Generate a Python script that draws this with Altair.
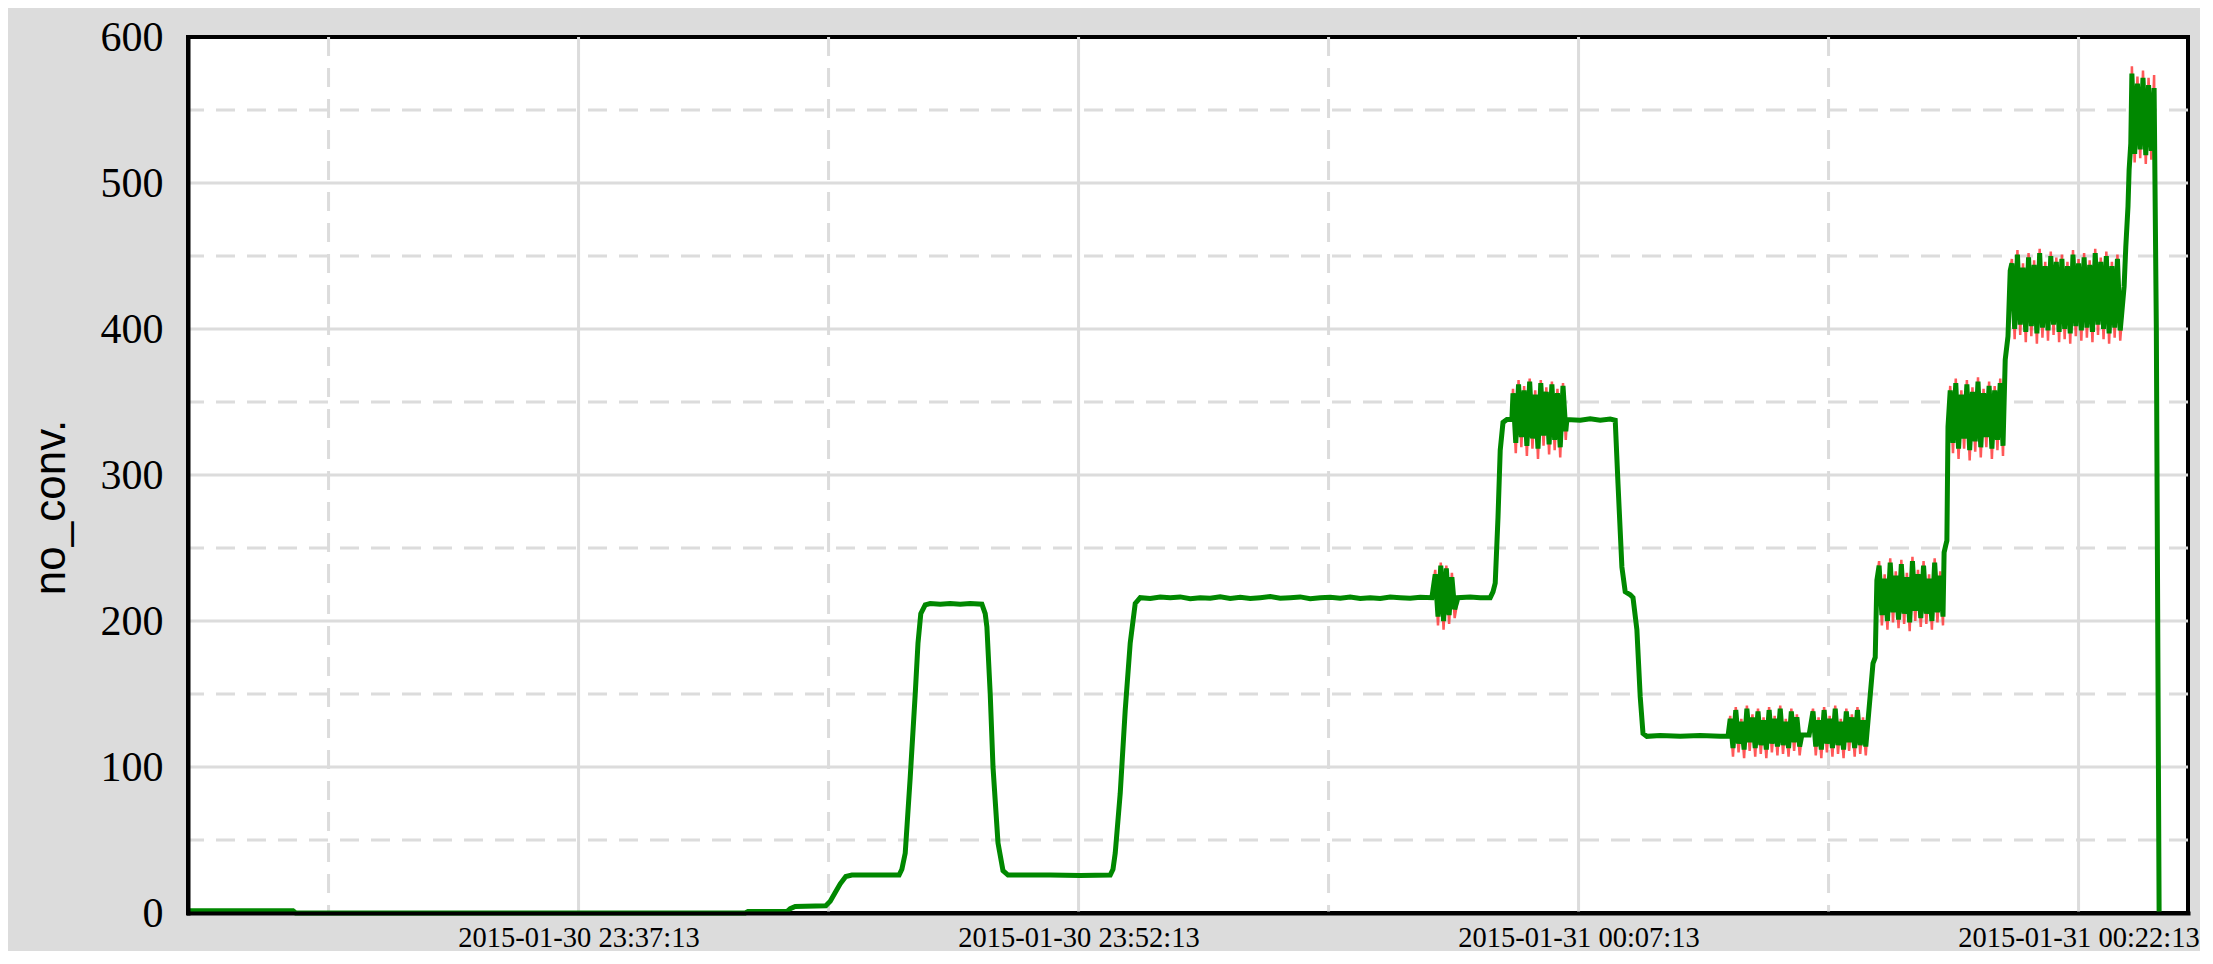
import altair as alt
import pandas as pd

# ---------------- data ----------------
START = "2015-01-30 23:25:30"
STEP = 5  # seconds between samples inside the oscillating blocks

# slowly varying parts of the trace (seconds after START, value)
SMOOTH_SEC = [0, 189, 194, 1003, 1008, 1078, 1084, 1093, 1148, 1156, 1165, 1174, 1184, 1195,
              1280, 1285, 1291, 1300, 1309, 1314, 1319, 1327, 1336, 1354, 1372, 1390, 1408, 1429,
              1435, 1438, 1444, 1449, 1458, 1467, 1476, 1552, 1606, 1660, 1665, 1669, 1678, 1687,
              1696, 1705, 1714, 1732, 1750, 1768, 1786, 1804, 1822, 1840, 1858, 1876, 1894, 1912,
              1930, 1948, 1966, 1984, 2002, 2020, 2038, 2056, 2074, 2092, 2110, 2128, 2146, 2164,
              2182, 2200, 2218, 2239, 2286, 2308, 2326, 2344, 2349, 2353, 2358, 2362, 2367, 2374,
              2383, 2482, 2506, 2524, 2542, 2560, 2569, 2574, 2581, 2587, 2596, 2601, 2608, 2614,
              2619, 2626, 2650, 2686, 2722, 2758, 2772, 2905, 2918, 3033, 3037, 3040, 3161, 3164,
              3166, 3168, 3271, 3276, 3280, 3485, 3488, 3492, 3494, 3497, 3543, 3548]
SMOOTH_VAL = [1.5, 1.5, 0, 0, 1, 1, 3, 4.5, 5, 8, 14, 20, 25, 26,
              26, 30, 41, 93, 150, 185, 205, 211, 212, 211.5, 212, 211.5, 212, 211.5,
              205, 196, 150, 100, 48, 29, 26, 26, 25.7, 26, 30, 41, 82, 139,
              185, 212, 216, 215.5, 216.5, 216, 216.5, 215.3, 216, 215.6, 216.6, 215.5, 216.2, 215.4,
              216, 216.7, 215.6, 216, 216.5, 215.3, 216, 216.3, 215.6, 216.5, 215.5, 216, 215.4, 216.4,
              216, 215.6, 216.3, 216, 216, 216.5, 216, 216, 220, 226, 271, 317, 336, 338,
              338, 338, 337.5, 338.5, 337.5, 338.3, 337.5, 294, 237, 220, 218, 216, 194, 148,
              123, 121, 121.6, 121, 121.5, 121, 121, 122, 122, 171, 175, 228, 247, 252,
              255, 333, 379, 395, 440, 429, 456, 484, 509, 527, 400, 0]

# oscillating blocks: start second, green trace values, red trace values
BLOCK_START = [2245, 2385, 2776, 2925, 3044, 3172, 3283, 3499]
GREEN_BLOCKS = [
    [232, 203, 238, 200, 236, 204, 230, 208],
    [356, 322, 362, 326, 358, 320, 364, 325, 355, 318, 363, 327, 357, 321, 362, 324, 356, 319, 361, 330],
    [133, 113, 139, 116, 131, 112, 140, 117, 134, 113, 138, 115, 132, 112, 139, 116, 133, 114, 140, 115,
     131, 113, 138, 117, 134, 114],
    [138, 114, 132, 112, 139, 116, 133, 113, 140, 115, 131, 112, 138, 117, 134, 113, 139, 115, 132, 114, 136],
    [238, 204, 229, 200, 240, 206, 231, 201, 239, 205, 230, 199, 241, 207, 232, 202, 238, 205, 229, 200,
     240, 206, 231, 203],
    [358, 322, 363, 318, 355, 325, 362, 317, 357, 323, 364, 319, 356, 326, 361, 318, 358, 324, 363, 320],
    [445, 400, 451, 403, 442, 398, 449, 402, 444, 397, 452, 401, 443, 399, 450, 403, 446, 398, 448, 400,
     443, 397, 451, 402, 445, 399, 449, 401, 444, 398, 452, 403, 446, 400, 450, 397, 443, 401, 448, 399],
    [575, 520, 568, 523, 572, 519, 567, 522, 565],
]
RED_BLOCKS = [
    [235, 197, 240, 194, 238, 198, 233, 202],
    [359, 315, 365, 319, 361, 313, 366, 318, 358, 311, 365, 320, 360, 314, 364, 317, 359, 312, 363, 324],
    [135, 107, 141, 110, 133, 106, 142, 111, 136, 107, 140, 109, 134, 106, 141, 110, 135, 108, 142, 109,
     133, 107, 140, 111, 136, 108],
    [140, 108, 134, 106, 141, 110, 135, 107, 142, 109, 133, 106, 140, 111, 136, 107, 141, 109, 134, 108, 138],
    [241, 197, 232, 194, 243, 199, 234, 195, 242, 198, 233, 193, 244, 200, 235, 196, 241, 198, 232, 194,
     243, 199, 234, 197],
    [361, 315, 366, 311, 358, 318, 365, 310, 360, 316, 367, 312, 359, 319, 364, 311, 361, 317, 366, 313],
    [448, 393, 454, 396, 445, 391, 452, 395, 447, 390, 455, 394, 446, 392, 453, 396, 449, 391, 451, 393,
     446, 390, 454, 395, 448, 392, 452, 394, 447, 391, 455, 396, 449, 393, 453, 390, 446, 394, 451, 392],
    [580, 514, 573, 517, 577, 513, 572, 516, 574],
]

X_MAJOR = ["2015-01-30 23:37:13", "2015-01-30 23:52:13", "2015-01-31 00:07:13", "2015-01-31 00:22:13"]
X_MINOR = ["2015-01-30 23:29:43", "2015-01-30 23:44:43", "2015-01-30 23:59:43", "2015-01-31 00:14:43"]
Y_MAJOR = [0, 100, 200, 300, 400, 500, 600]
Y_MINOR = [50, 150, 250, 350, 450, 550]
X_DOMAIN = ["2015-01-30 23:25:30", "2015-01-31 00:25:30"]


def build(blocks):
    rows = list(zip(SMOOTH_SEC, SMOOTH_VAL))
    for start, vals in zip(BLOCK_START, blocks):
        rows += [(start + i * STEP, v) for i, v in enumerate(vals)]
    rows.sort(key=lambda r: r[0])
    df = pd.DataFrame(rows, columns=["sec", "value"])
    df["time"] = pd.Timestamp(START) + pd.to_timedelta(df["sec"], unit="s")
    return df[["time", "value"]]


def dt(s):
    t = pd.Timestamp(s)
    return alt.DateTime(year=t.year, month=t.month, date=t.day,
                        hours=t.hour, minutes=t.minute, seconds=t.second)


green_df = build(GREEN_BLOCKS)
red_df = build(RED_BLOCKS)
xmaj_df = pd.DataFrame({"time": pd.to_datetime(X_MAJOR)})
xmin_df = pd.DataFrame({"time": pd.to_datetime(X_MINOR)})
ymaj_df = pd.DataFrame({"value": Y_MAJOR[1:-1]})
ymin_df = pd.DataFrame({"value": Y_MINOR})

# ---------------- scales / axes ----------------
xscale = alt.Scale(domain=[dt(s) for s in X_DOMAIN])
yscale = alt.Scale(domain=[0, 600], nice=False, zero=True)

xaxis = alt.Axis(values=[dt(s) for s in X_MAJOR], format="%Y-%m-%d %H:%M:%S", formatType="time",
                 labelFont="Liberation Serif", labelFontSize=28.5, labelColor="black",
                 labelPadding=10, labelLimit=600, ticks=False, grid=False, domain=True,
                 domainColor="black", domainWidth=4, domainCap="square", title="", zindex=1,
                 labelFlush=False, labelOverlap=False)
yaxis = alt.Axis(values=Y_MAJOR, labelFont="Liberation Serif", labelFontSize=42, labelColor="black",
                 labelPadding=25, ticks=False, grid=False, domain=True, domainColor="black",
                 domainWidth=4, domainCap="square", zindex=1,
                 title="no_conv.", titleFont="Liberation Sans", titleFontSize=44,
                 titleFontWeight="normal", titleColor="black", titleAngle=270,
                 titleX=-124, titleY=470, titleAlign="center", titleBaseline="alphabetic")

X = lambda: alt.X("time:T", scale=xscale, axis=xaxis)
Y = lambda: alt.Y("value:Q", scale=yscale, axis=yaxis)

GRID = "#dcdcdc"
DASH = [19, 12]

g_xmaj = alt.Chart(xmaj_df).mark_rule(color=GRID, strokeWidth=3).encode(x=X())
g_xmin = alt.Chart(xmin_df).mark_rule(color=GRID, strokeWidth=3, strokeDash=DASH).encode(x=X())
g_ymaj = alt.Chart(ymaj_df).mark_rule(color=GRID, strokeWidth=3).encode(y=Y())
g_ymin = alt.Chart(ymin_df).mark_rule(color=GRID, strokeWidth=3, strokeDash=DASH).encode(y=Y())

red_line = alt.Chart(red_df).mark_line(color="#ff2020", strokeWidth=2.5, opacity=0.75).encode(
    x=X(), y=Y())
green_line = alt.Chart(green_df).mark_line(color="#008800", strokeWidth=5).encode(
    x=X(), y=Y())

chart = alt.layer(g_xmin, g_ymin, g_xmaj, g_ymaj, red_line, green_line).properties(
    width=2000, height=876,
    autosize=alt.AutoSizeParams(type="none"),
    padding={"left": 180, "top": 29, "right": 12, "bottom": 38},
    background="#dcdcdc",
).configure_view(fill="white", stroke="black", strokeWidth=4)

chart.save("out.html", embed_options={"renderer": "svg", "actions": False})
